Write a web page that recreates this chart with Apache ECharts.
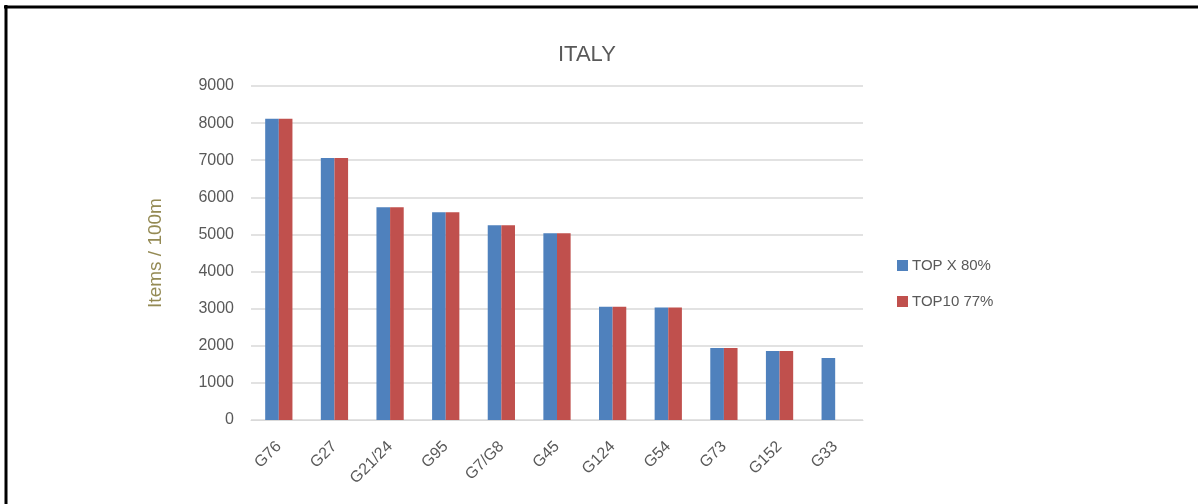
<!DOCTYPE html>
<html>
<head>
<meta charset="utf-8">
<script src="https://cdn.jsdelivr.net/npm/echarts@6/dist/echarts.min.js"></script>
<style>
html,body{margin:0;padding:0;background:#fff;}
#chart{width:1198px;height:504px;}
</style>
</head>
<body>
<div id="chart"></div>
<script>
const categories = ['G76','G27','G21/24','G95','G7/G8','G45','G124','G54','G73','G152','G33'];
const topX80 = [8120,7060,5730,5600,5250,5030,3050,3030,1940,1860,1670];
const top10_77 = [8120,7060,5730,5600,5250,5030,3050,3030,1940,1860,null];
const seriesNames = ['TOP X 80%','TOP10 77%'];

const chart = echarts.init(document.getElementById('chart'));
const txt = '#595959';
const font = 'Liberation Sans, Arial, sans-serif';
chart.setOption({
  animation:false,
  title:{text:'ITALY',left:553,top:39,textStyle:{fontSize:22,fontWeight:'normal',color:txt,fontFamily:font}},
  legend:{orient:'vertical',left:892,top:253,itemGap:21,itemWidth:11,itemHeight:11,icon:'rect',
    textStyle:{fontSize:15,color:txt,fontFamily:font,padding:[0,0,0,-1]},data:seriesNames},
  grid:{left:251,right:335,top:86,bottom:84,containLabel:false},
  xAxis:{type:'category',data:categories,
    axisLine:{lineStyle:{color:'#d9d9d9',width:1}},axisTick:{show:false},
    axisLabel:{rotate:45,color:txt,fontSize:16,fontFamily:font,margin:24,interval:0}},
  yAxis:{type:'value',min:0,max:9000,interval:1000,
    name:'Items / 100m',nameLocation:'middle',nameGap:86,nameRotate:90,
    nameTextStyle:{color:'#948a54',fontSize:19,fontFamily:font},
    axisLine:{show:false},axisTick:{show:false},
    axisLabel:{color:txt,fontSize:16,fontFamily:font,margin:17,formatter:function(v){return String(v);}},
    splitLine:{lineStyle:{color:'#d9d9d9',width:1.5}}},
  series:[
    {name:seriesNames[0],type:'bar',data:topX80,barGap:'0%',barCategoryGap:'51%',itemStyle:{color:'#4f81bd'}},
    {name:seriesNames[1],type:'bar',data:top10_77,barGap:'0%',barCategoryGap:'51%',itemStyle:{color:'#c0504d'}}
  ],
  graphic:[
    {type:'line',shape:{x1:4,y1:7,x2:1198,y2:7},style:{stroke:'#000',lineWidth:3}},
    {type:'line',shape:{x1:6,y1:5,x2:6,y2:504},style:{stroke:'#000',lineWidth:3}}
  ]
});
</script>
</body>
</html>
